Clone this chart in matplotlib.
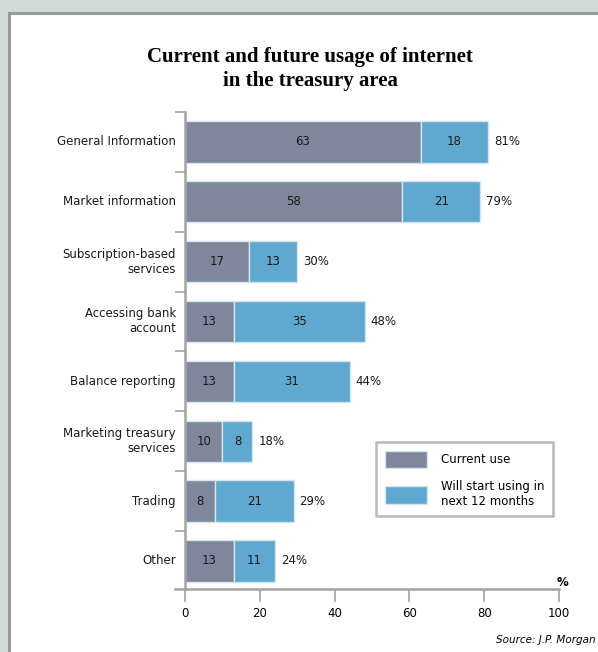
import numpy as np
import matplotlib
matplotlib.use("Agg")
import matplotlib.pyplot as plt
from matplotlib.patches import Rectangle, Patch

categories = [
    "General Information",
    "Market information",
    "Subscription-based\nservices",
    "Accessing bank\naccount",
    "Balance reporting",
    "Marketing treasury\nservices",
    "Trading",
    "Other",
]
current_use = [63, 58, 17, 13, 13, 10, 8, 13]
will_start = [18, 21, 13, 35, 31, 8, 21, 11]
x_ticks = [0, 20, 40, 60, 80, 100]

CURRENT = "#7e879c"
FUTURE = "#5fa8cf"
EDGE = "#d6e4ee"
SPINE = "#a3a3a3"
FS = 8.5

fig = plt.figure(figsize=(5.98, 6.52), dpi=100)
fig.patch.set_facecolor("#cfdcd8")

# white panel with a grey frame on top and left
panel = Rectangle((8.5 / 598, -0.1), 1.2, 1.1 - 12.5 / 652,
                  transform=fig.transFigure, facecolor="white",
                  edgecolor="#9a9a9a", linewidth=2.2, zorder=-10)
fig.patches.append(panel)

fig.text(310 / 598, 1 - 57 / 652, "Current and future usage of internet",
         ha="center", va="center", family="Liberation Serif",
         fontweight="bold", fontsize=15)
fig.text(310 / 598, 1 - 81 / 652, "in the treasury area",
         ha="center", va="center", family="Liberation Serif",
         fontweight="bold", fontsize=15)

ax = fig.add_axes([175 / 598, 1 - 589 / 652, 384 / 598, 477 / 652])
ax.set_facecolor("none")

y = np.arange(len(categories))
cur = np.array(current_use)
fut = np.array(will_start)
total = cur + fut

ax.barh(y, cur, height=0.69, color=CURRENT, edgecolor=EDGE, linewidth=1)
ax.barh(y, fut, left=cur, height=0.69, color=FUTURE, edgecolor=EDGE, linewidth=1)

for i in range(len(categories)):
    ax.text(cur[i] / 2, y[i], str(cur[i]), ha="center", va="center",
            fontsize=FS, color="#1a1a1a")
    ax.text(cur[i] + fut[i] / 2, y[i], str(fut[i]), ha="center", va="center",
            fontsize=FS, color="#1a1a1a")
    ax.text(total[i] + 1.6, y[i], f"{total[i]}%", ha="left", va="center",
            fontsize=FS, color="#1a1a1a")
    ax.text(-2.4, y[i], categories[i], ha="right", va="center",
            fontsize=FS, color="#1a1a1a", linespacing=1.2)

ax.set_xlim(-2.7, 100)
ax.set_ylim(7.47, -0.5)

ax.spines["top"].set_visible(False)
ax.spines["right"].set_visible(False)
ax.spines["left"].set_position(("data", 0))
ax.spines["left"].set_color(SPINE)
ax.spines["left"].set_linewidth(1.8)
ax.spines["bottom"].set_color(SPINE)
ax.spines["bottom"].set_linewidth(1.8)

ax.set_yticks(np.arange(-0.5, len(categories) - 0.5, 1))
ax.set_yticklabels([])
ax.tick_params(axis="y", length=7, width=1.2, color=SPINE, direction="out")
ax.set_xticks(x_ticks)
ax.set_xticklabels([str(t) for t in x_ticks], fontsize=FS)
ax.tick_params(axis="x", length=9, width=1.2, color=SPINE, pad=4)

ax.text(101, 7.36, "%", ha="center", va="center", fontsize=FS,
        fontweight="bold")

handles = [Patch(facecolor=CURRENT, edgecolor=EDGE),
           Patch(facecolor=FUTURE, edgecolor=EDGE)]
leg = ax.legend(handles, ["Current use", "Will start using in\nnext 12 months"],
                loc="upper left", bbox_to_anchor=(376 / 598, 1 - 442 / 652),
                bbox_transform=fig.transFigure, fontsize=FS, frameon=True,
                fancybox=False, handlelength=3.6, handleheight=1.9,
                borderpad=0.75, borderaxespad=0, labelspacing=0.95,
                handletextpad=1.15)
leg.get_frame().set_edgecolor("#a8a8a8")
leg.get_frame().set_linewidth(1.8)

fig.text(596 / 598, 1 - 640 / 652, "Source: J.P. Morgan", ha="right",
         va="center", fontsize=7.5, style="italic")

fig.savefig("out.png", dpi=100, facecolor=fig.get_facecolor())
